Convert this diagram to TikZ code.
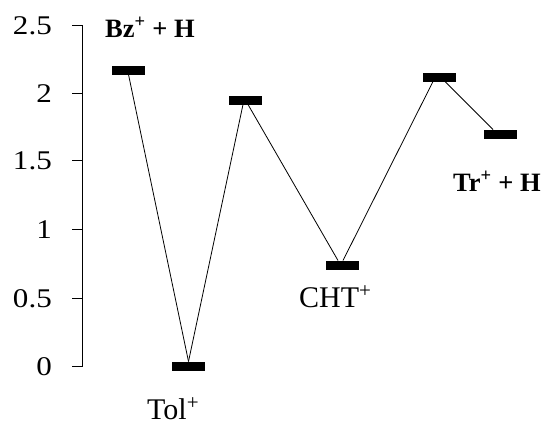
\documentclass[tikz,border=0pt]{standalone}
\usepackage{fontspec}
\setmainfont{Liberation Serif}
\begin{document}
\begin{tikzpicture}[x=1pt,y=-1pt,
  level/.style={fill=black,minimum width=33pt,minimum height=9pt,inner sep=0pt,outer sep=0pt},
  conn/.style={line width=0.8pt},
  axisline/.style={line width=0.9pt},
  ticklab/.style={anchor=base east,font=\fontsize{27}{27}\selectfont,inner sep=0pt},
  lab/.style={anchor=base west,inner sep=0pt,font=\fontsize{30}{30}\selectfont},
  blab/.style={anchor=base west,inner sep=0pt,font=\fontsize{26.5}{26.5}\selectfont\bfseries}]
\useasboundingbox (0,0) rectangle (546,424);
% axis
\coordinate (atop) at (82,25);
\coordinate (abot) at (82,366.7);
\draw[axisline] (atop) -- (abot);
\foreach \v/\y/\n in {0/366.7/a, 0.5/298.3/b, 1/229.7/c, 1.5/160.3/d, 2/93.7/e, 2.5/25/f}{
  \coordinate (tk\n) at (82,\y);
  \draw[axisline] (tk\n) -- ++(-10,0);
  \node[ticklab] (tl\n) at (52,\y+9) {\scalebox{1.15}[1]{\v}};
}
% levels
\node[level] (bz)  at (128.5,70)  {};
\node[level] (tol) at (188.5,366) {};
\node[level] (ts1) at (245.5,100) {};
\node[level] (cht) at (342.5,265) {};
\node[level] (ts2) at (439.5,77)  {};
\node[level] (tr)  at (500.5,134) {};
% connectors
\draw[conn] (bz.south) -- (tol.north);
\draw[conn] (tol.north) -- ([xshift=-2.5pt]ts1.south);
\draw[conn] ([xshift=2.5pt]ts1.south) -- ([xshift=-4.5pt]cht.north);
\draw[conn] ([xshift=0.5pt]cht.north) -- ([xshift=-6.5pt]ts2.south);
\draw[conn] ([xshift=5.5pt]ts2.south) -- ([xshift=-7.5pt]tr.north);
% labels
\node[blab] (lbz)  at (105,37)  {Bz\textsuperscript{+} + H};
\node[lab]  (ltol) at (147,419) {Tol\textsuperscript{+}};
\node[lab]  (lcht) at (299,307) {CHT\textsuperscript{+}};
\node[blab] (ltr)  at (453,191) {Tr\textsuperscript{+} + H};
\end{tikzpicture}
\end{document}
